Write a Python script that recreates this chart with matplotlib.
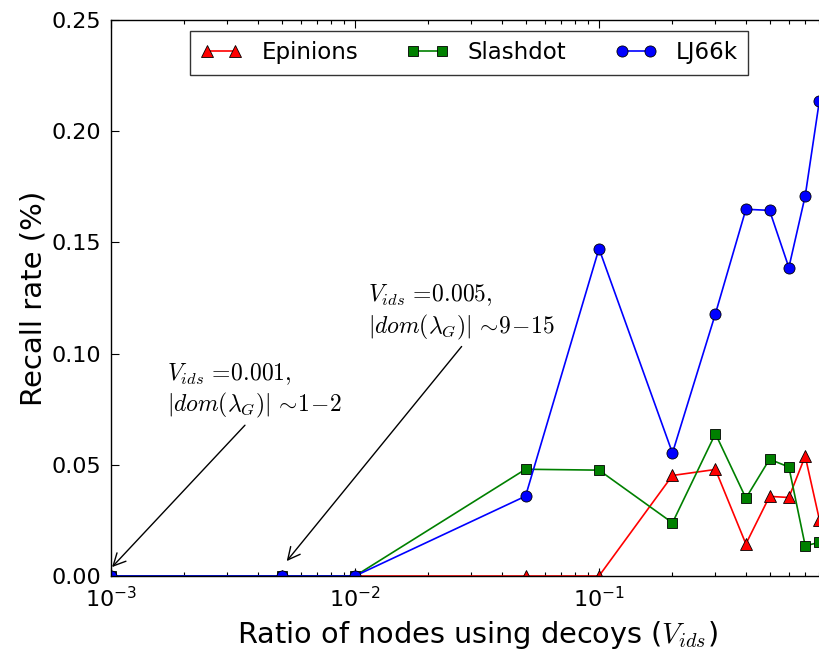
import matplotlib
matplotlib.use("Agg")
import matplotlib.pyplot as plt
from matplotlib.ticker import LogLocator, FixedLocator

# Ratio of nodes using decoys
ratios = [0.001, 0.005, 0.01, 0.05, 0.1, 0.2, 0.3, 0.4, 0.5, 0.6, 0.7, 0.8]

# Recall rate per dataset
epinions = [0.0, 0.0, 0.0, 0.0, 0.0, 0.0452, 0.0479, 0.0144, 0.0358, 0.0353, 0.0539, 0.0254]
slashdot = [0.0, 0.0, 0.0, 0.048, 0.0476, 0.0239, 0.064, 0.035, 0.0525, 0.049, 0.0136, 0.0151]
lj66k = [0.0, 0.0, 0.0, 0.0359, 0.1472, 0.0553, 0.1179, 0.1649, 0.1644, 0.1387, 0.1709, 0.2136]

series_names = ["Epinions", "Slashdot", "LJ66k"]
y_ticks = [0.00, 0.05, 0.10, 0.15, 0.20, 0.25]
x_major = [1e-3, 1e-2, 1e-1]

plt.rcParams["font.family"] = ["DejaVu Sans"]
plt.rcParams["mathtext.fontset"] = "dejavusans"

W, H = 820, 652
fig = plt.figure(figsize=(W / 100, H / 100), dpi=100)
# axes spans 10^-3 .. 10^0; the right part runs past the figure edge
left, right, top, bottom = 111, 843, 20, 576
ax = fig.add_axes([left / W, 1 - bottom / H, (right - left) / W, (bottom - top) / H])

common = dict(linewidth=1.2, markeredgecolor="black", markeredgewidth=0.6)
ax.plot(ratios, epinions, color="red", marker="^", markersize=8, label=series_names[0], **common)
ax.plot(ratios, slashdot, color="green", marker="s", markersize=7, label=series_names[1], **common)
ax.plot(ratios, lj66k, color="blue", marker="o", markersize=8, label=series_names[2], **common)

ax.set_xscale("log")
ax.set_xlim(1e-3, 1.0)
ax.set_ylim(0, 0.25)
ax.set_yticks(y_ticks)
ax.set_yticklabels([f"{v:.2f}" for v in y_ticks])
ax.xaxis.set_major_locator(FixedLocator(x_major))
ax.xaxis.set_minor_locator(LogLocator(base=10, subs=range(2, 10)))

ax.tick_params(which="both", direction="in", top=True, right=True, labelsize=16)
ax.tick_params(which="major", length=6, width=0.8)
ax.tick_params(which="minor", length=3, width=0.8)
ax.tick_params(axis="y", pad=7)
ax.tick_params(axis="x", pad=7)
for s in ax.spines.values():
    s.set_linewidth(1.0)

ax.set_xlabel(r"Ratio of nodes using decoys ($V_{ids}$)", fontsize=20.7, labelpad=6,
              math_fontfamily="cm")
ax.set_ylabel("Recall rate (%)", fontsize=21, labelpad=3)

leg = ax.legend(loc="upper left", bbox_to_anchor=((190 - left) / (right - left), 1 - (31 - top) / (bottom - top)),
                borderaxespad=0, ncol=3, numpoints=2, fontsize=16.5, fancybox=False,
                handlelength=1.83, handletextpad=0.83, columnspacing=2.12, borderpad=0.45)
leg.get_frame().set_edgecolor("black")
leg.get_frame().set_linewidth(1.0)

cm = {"math_fontfamily": "cm"}
ax.text(0.001696, 0.0700, r"$V_{ids}\,=\!0.001,$" + "\n" + r"$|dom(\lambda_G)|\,\sim\!1\!-\!2$",
        fontsize=17, ha="left", va="bottom", linespacing=1.2, **cm)
ax.text(0.01129, 0.1054, r"$V_{ids}\,=\!0.005,$" + "\n" + r"$|dom(\lambda_G)|\,\sim\!9\!-\!15$",
        fontsize=17, ha="left", va="bottom", linespacing=1.2, **cm)

arrow = dict(arrowstyle="->", color="black", linewidth=1.0, shrinkA=0, shrinkB=0, mutation_scale=22)
ax.annotate("", xy=(0.00101, 0.004), xytext=(0.00354, 0.0678), arrowprops=arrow)
ax.annotate("", xy=(0.00525, 0.0067), xytext=(0.02735, 0.1032), arrowprops=arrow)

fig.savefig("out.png", dpi=100, facecolor="white")
